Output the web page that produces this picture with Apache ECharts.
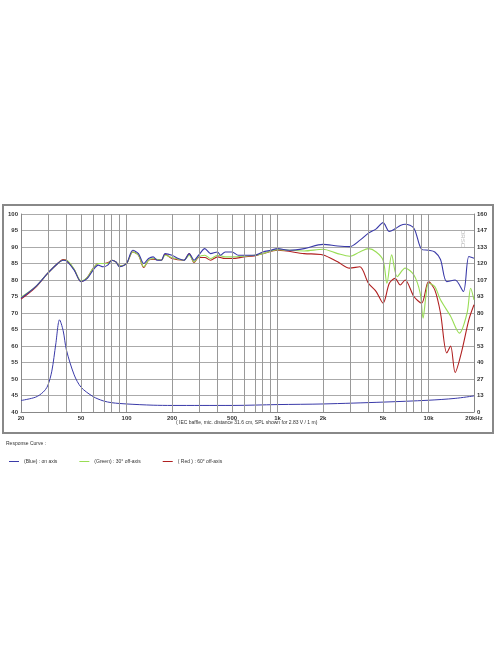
<!DOCTYPE html>
<html><head><meta charset="utf-8">
<script src="https://cdn.jsdelivr.net/npm/echarts@6/dist/echarts.min.js"></script>
<style>html,body{margin:0;background:#fff}#chart{width:496px;height:664px}</style>
</head><body><div id="chart"></div>
<script>
const freqBlue = [20,25,30,35,38,40,45,50,55,60,65,70,75,80,85,90,100,110,120,130,140,150,160,170,180,200,220,240,260,280,300,330,360,400,420,450,500,550,600,700,800,900,1000,1200,1500,2000,2500,3000,3500,4000,4500,5000,5500,6000,6500,7000,8000,9000,10000,11000,12000,13200,15000,17000,18500,20000];
const splBlue = [74.5,78,82,85,86,85.8,83,79.5,80.5,83,84.5,84,84.5,86,85.5,84,85,89,88,85,86.5,87,86,86,88,87.5,86.5,86,88,86,87.5,89.5,88,88.5,87.5,88.5,88.5,87.5,87.5,87.5,88.5,89,89.5,89,89.5,90.8,90.3,90.1,92,94.2,95.5,97.4,94.7,95.5,96.5,96.9,95.7,89.3,89,88.5,86.2,79.5,80,76.5,87.1,86.6];
const freqGreen = [20,25,30,35,38,40,45,50,55,60,65,70,75,80,85,90,100,110,120,130,140,150,170,180,200,240,260,280,300,330,360,400,450,500,600,700,800,1000,1500,2000,2500,3000,3500,4000,4500,5000,5300,5700,6200,7000,8000,8800,9200,9600,10000,11000,12000,14000,16000,18000,19000,20000];
const splGreen = [74.8,78,82,85,86,86,83.2,79.7,80.8,83.5,85,85,85,86,85.5,84.2,85,88.5,87.5,84,86,86.5,86,87.5,86.8,86,87.5,85.5,87,87.5,86.5,87.5,87,87,87.2,87.5,88,89.2,88.8,89.3,88,87.2,88.5,89.5,88.5,86,79,87.6,81,83.6,81.5,76,68.4,75,79,78,74,69,63.9,70,77.5,74];
const freqRed = [20,25,30,35,38,40,45,50,55,60,65,70,75,80,85,90,100,110,120,130,140,150,170,180,200,240,260,280,300,330,360,400,450,500,600,700,800,1000,1500,2000,2500,3000,3500,4000,4500,5000,5500,6000,6500,7000,8000,9000,10000,11000,12000,13200,14000,15000,16500,18500,20000];
const splRed = [74.2,77.8,82,85,86.2,86,83.2,79.5,80.8,83.5,85,85,85.2,86,85.5,84.2,85,88.5,87.5,83.8,86,86.3,86,87.8,86.5,86,88,85.3,86.8,86.8,86,87,86.5,86.5,87,87.3,88,89,88,87.6,85.5,83.6,84,79,76.5,73,79,80.5,78.5,80,75,73,79.5,77,70,57.9,60,52,58,68,72.5];
const freqImp = [20,25,28,30,32,34,36,38,40,45,50,60,70,80,100,150,200,500,1000,2000,5000,10000,15000,20000];
const ohmImp = [9.3,12,16,21,33,55,74.5,66,50,30,20,12.5,9,7.5,6.5,5.5,5.3,5.3,6,6.5,8,9.5,11,13];
const gridFreqs = [30,40,50,60,70,80,90,100,200,300,400,500,600,700,800,900,1000,2000,3000,4000,5000,6000,7000,8000,9000,10000];
const xLabels = [20,50,100,200,500,1000,2000,5000,10000,20000];
const seriesNames = ['(Blue) : on axis','(Green) : 30° off-axis','( Red ) : 60° off-axis'];

const pts = (f, v) => f.map((x, i) => [Math.log10(x), v[i]]);
const fmtF = f => f === 20000 ? '20kHz' : f >= 1000 ? (f / 1000) + 'k' : String(f);
const font = 'Liberation Sans';

const chart = echarts.init(document.getElementById('chart'));
chart.setOption({
  animation: false,
  textStyle: { fontFamily: font },
  grid: { left: 21, right: 22, top: 214, height: 198, outerBoundsMode: 'none', containLabel: false },
  legend: {
    data: seriesNames, left: 4, top: 454, itemWidth: 10, itemHeight: 1, itemGap: 22,
    icon: 'rect', textStyle: { fontSize: 5, color: '#333' }
  },
  graphic: [
    { type: 'rect', shape: { x: 3, y: 205, width: 490, height: 228 }, style: { fill: 'none', stroke: '#888', lineWidth: 2 } },
    { type: 'text', left: 6, top: 441, style: { text: 'Response Curve :', fontSize: 5, fill: '#333', fontFamily: font } },
    { type: 'text', left: 176, top: 420, style: { text: '( IEC baffle, mic. distance 31.6 cm, SPL shown for 2.83 V / 1 m)', fontSize: 5, fill: '#333', fontFamily: font } },
    { type: 'text', x: 466, y: 230, rotation: -Math.PI / 2, style: { text: 'DRSC', fontSize: 6, fill: '#bbb', fontFamily: font } }
  ],
  xAxis: {
    type: 'value', min: Math.log10(20), max: Math.log10(20000),
    axisLine: { lineStyle: { color: '#888' } }, axisTick: { show: false }, splitLine: { show: false },
    axisLabel: {
      customValues: xLabels.map(Math.log10), fontSize: 6, fontWeight: 'bold', color: '#333', margin: 3,
      formatter: v => fmtF(Math.round(Math.pow(10, v)))
    }
  },
  yAxis: [
    { type: 'value', min: 40, max: 100, interval: 5, name: 'dB', nameLocation: 'middle', nameGap: 12, nameRotate: 90,
      nameTextStyle: { fontSize: 7, fontWeight: 'bold', color: '#333' },
      axisLine: { show: true, lineStyle: { color: '#888' } }, axisTick: { show: false },
      axisLabel: { fontSize: 6, fontWeight: 'bold', color: '#333', margin: 3 },
      splitLine: { lineStyle: { color: '#aaa', width: 1 } } },
    { type: 'value', min: 0, max: 160, interval: 160 / 12, name: 'Ohm', nameLocation: 'middle', nameGap: 15, nameRotate: -90,
      nameTextStyle: { fontSize: 7, fontWeight: 'bold', color: '#333' },
      axisLine: { show: true, lineStyle: { color: '#888' } }, axisTick: { show: false },
      axisLabel: { fontSize: 6, fontWeight: 'bold', color: '#333', margin: 3, formatter: v => Math.round(v) },
      splitLine: { show: false } }
  ],
  series: [
    { type: 'line', name: 'grid', data: [], silent: true,
      markLine: { symbol: 'none', silent: true, label: { show: false },
        lineStyle: { color: '#999', width: 1, type: 'solid' },
        data: gridFreqs.map(f => ({ xAxis: Math.log10(f) })) } },
    { type: 'line', name: seriesNames[2], data: pts(freqRed, splRed), smooth: 0.3, showSymbol: false, lineStyle: { color: '#b02020', width: 1.1 }, itemStyle: { color: '#b02020' } },
    { type: 'line', name: seriesNames[1], data: pts(freqGreen, splGreen), smooth: 0.3, showSymbol: false, lineStyle: { color: '#99dd55', width: 1.1 }, itemStyle: { color: '#99dd55' } },
    { type: 'line', name: seriesNames[0], data: pts(freqBlue, splBlue), smooth: 0.3, showSymbol: false, lineStyle: { color: '#3a3aa8', width: 1.1 }, itemStyle: { color: '#3a3aa8' } },
    { type: 'line', name: 'impedance', yAxisIndex: 1, data: pts(freqImp, ohmImp), smooth: 0.3, showSymbol: false, lineStyle: { color: '#3a3aa8', width: 1 } }
  ]
});
</script></body></html>
